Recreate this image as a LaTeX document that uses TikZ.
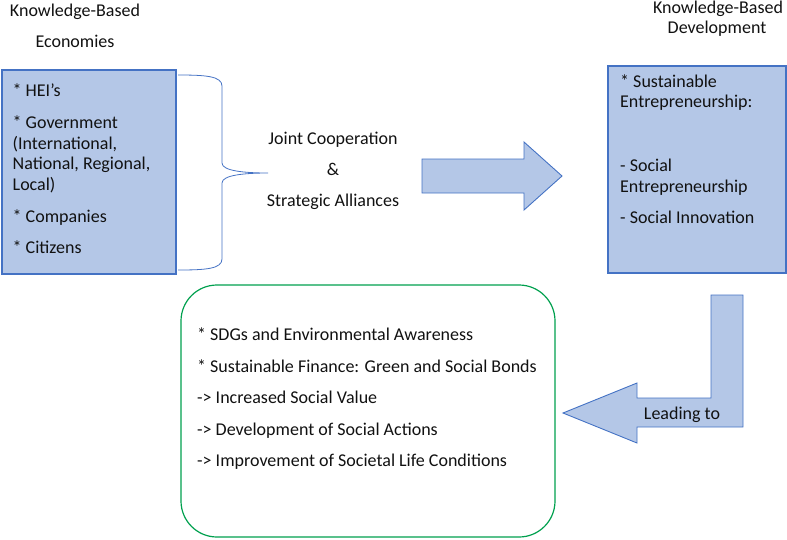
\documentclass[tikz,border=0pt]{standalone}
\usepackage{fontspec}
\setmainfont{Carlito}
\usetikzlibrary{positioning}
\definecolor{boxfill}{HTML}{B4C7E7}
\definecolor{boxline}{HTML}{4472C4}
\definecolor{roundline}{HTML}{00A04E}
\definecolor{ink}{HTML}{111111}
\tikzset{txt/.style={font=\fontsize{18}{21}\selectfont,text=ink,inner sep=0pt,anchor=base west},
  head/.style={font=\fontsize{18}{21}\selectfont,text=ink,inner sep=0pt,anchor=base},
  blockbox/.style={draw=boxline,fill=boxfill,line width=1.2pt},
  blockarrow/.style={draw=boxline,fill=boxfill,line width=0.9pt,line join=miter}}

\begin{document}
\begin{tikzpicture}[x=1pt,y=-1pt]
\useasboundingbox (0,0) rectangle (787,539);
% headings
\node[head] (kbeA) at (75,16) {Knowledge-Based};
\node[head] (kbeB) at (75,47) {Economies};
\node[head] (kbdA) at (718,13) {Knowledge-Based};
\node[head] (kbdB) at (717,33) {Development};
% actors box
\draw[blockbox] (2,70) rectangle (176,274);
\foreach \y/\t [count=\i] in {96/{* HEI’s},128/{* Government},149/{(International,},
  169/{National, Regional,},190/{Local)},222/{* Companies},253/{* Citizens}}
  \node[txt] (act\i) at (12.5,\y) {\t};
% brace
\draw[boxline,line width=0.8pt] (178,75) .. controls (205,75) and (222,76) .. (222,86)
  -- (222,163) .. controls (222,171) and (245,173) .. (268,173)
  .. controls (245,173) and (222,175) .. (222,183)
  -- (222,259) .. controls (222,269) and (205,270) .. (178,270);
\node[head] (joint) at (333,144) {Joint Cooperation};
\node[head] (amp) at (333,175) {\&};
\node[head] (strat) at (333,206) {Strategic Alliances};
% block arrow right
\draw[blockarrow] (422,159) -- (524,159) -- (524,142) -- (562,176) -- (524,210)
  -- (524,193) -- (422,193) -- cycle;
% development box
\draw[blockbox] (608,66) rectangle (786,273);
\foreach \y/\t [count=\i] in {87/{* Sustainable},107/{Entrepreneurship:},
  171/{- Social},192/{Entrepreneurship},223/{- Social Innovation}}
  \node[txt] (dev\i) at (620,\y) {\t};
% bent arrow
\draw[blockarrow] (711,295) -- (743,295) -- (743,427) -- (637,427) -- (637,443)
  -- (563,413) -- (637,383) -- (637,398) -- (711,398) -- cycle;
\node[head] (lead) at (682,419) {Leading to};
% outcomes box
\draw[roundline,line width=1.2pt,rounded corners=36pt] (181,285) rectangle (555,537);
\foreach \y/\t [count=\i] in {340/{* SDGs and Environmental Awareness},
  372/{* Sustainable Finance: Green and Social Bonds},403/{-> Increased Social Value},
  435/{-> Development of Social Actions},466/{-> Improvement of Societal Life Conditions}}
  \node[txt] (out\i) at (197,\y) {\t};
\end{tikzpicture}
\end{document}
